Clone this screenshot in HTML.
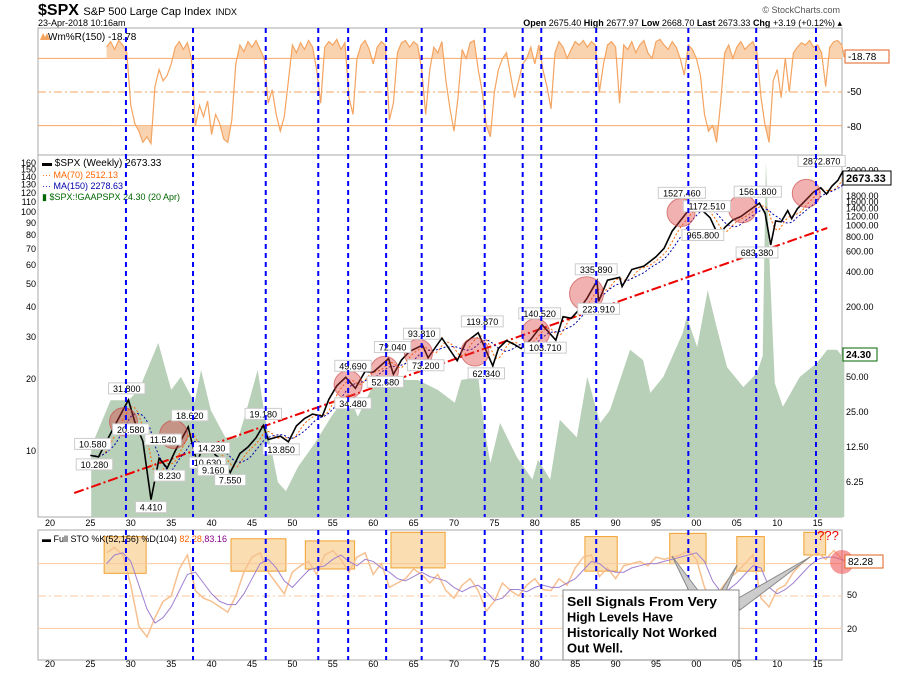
<!DOCTYPE html>
<html><head><meta charset="utf-8"><style>
body{margin:0;background:#fff;width:900px;height:673px;overflow:hidden;font-family:"Liberation Sans",sans-serif}
svg{display:block}
</style></head><body>
<svg id="c" width="900" height="673" xmlns="http://www.w3.org/2000/svg" font-family="Liberation Sans, sans-serif">
<text x="38" y="15" font-size="16" font-weight="bold">$SPX <tspan font-size="11" font-weight="normal">S&amp;P 500 Large Cap Index</tspan> <tspan font-size="9" font-weight="normal">INDX</tspan></text>
<text x="38" y="26" font-size="9">23-Apr-2018 10:16am</text>
<text x="840" y="13" font-size="9" text-anchor="end" fill="#555">© StockCharts.com</text>
<text x="842" y="26" font-size="9" text-anchor="end"><tspan font-weight="bold">Open</tspan> 2675.40  <tspan font-weight="bold">High</tspan> 2677.97  <tspan font-weight="bold">Low</tspan> 2668.70  <tspan font-weight="bold">Last</tspan> 2673.33  <tspan font-weight="bold">Chg</tspan> +3.19 (+0.12%) ▴</text>
<g id="g"></g>
</svg>
<script>
// ---- data ----
const signalYears=[1929.4,1937.7,1946.7,1953.2,1956.9,1961.6,1966.0,1973.8,1978.5,1980.8,1987.6,1999.0,2007.4,2014.8];
const priceYears=[1925,1926,1927,1928,1929.7,1930.5,1931.5,1932.5,1933.5,1934.5,1935.5,1937.1,1937.5,1938.2,1938.8,1939.5,1940.5,1941.5,1942.3,1943.5,1944.5,1945.5,1946.4,1947,1948.5,1949.5,1950.5,1951.5,1952.5,1953.7,1954.5,1955.5,1956.6,1957.8,1959,1960,1961.9,1962.5,1963.5,1964.5,1966.1,1966.8,1968.5,1970.4,1971.5,1973,1974.8,1975.5,1976.5,1977.5,1978.3,1979.5,1980.9,1982.6,1983.5,1984.5,1985.5,1986.5,1987.7,1987.9,1989,1990.5,1990.8,1992,1993.5,1995,1996,1997,1998,1999,2000.2,2000.9,2001.7,2002.8,2003.5,2004.5,2005.5,2006.5,2007.8,2008.5,2009.2,2009.8,2010.5,2011.3,2011.8,2012.5,2013.5,2014.5,2015.4,2016.1,2016.8,2017.5,2018.05,2018.3];
const priceVals=[10.58,10.28,14,19,31.8,20.58,14,4.41,10,8.23,11.54,18.62,14.23,9.16,12,13,10.63,9.5,7.55,11,12.5,15,19.18,14.5,15.5,13.85,19,22,24,23,32,42,49.69,40,56,55,72.04,52.68,70,83,93.81,73.2,108,69,100,119.87,62.34,88,103,95,88,105,140.52,103.71,165,160,190,240,335.89,223.91,340,360,300,420,450,540,640,900,1100,1350,1527.46,1320,1172.51,800,965.8,1120,1200,1350,1561.8,1280,683.38,1100,1080,1350,1150,1400,1650,1950,2120,1870,2200,2450,2872.87,2673.33];
const peYears=[1925.1,1927.5,1929.7,1931,1933.4,1935,1936.2,1937.9,1938.7,1939.9,1941.7,1943.3,1944.1,1945.7,1946.6,1948.2,1949.2,1950.7,1952.8,1954.8,1956.9,1958.1,1959.7,1961.8,1963.9,1965.5,1968,1970.1,1970.9,1973,1973.8,1974.5,1975.7,1977.8,1979.7,1980.4,1981.9,1983.1,1985.2,1986.5,1988.1,1989.3,1991.8,1993.4,1994.3,1995.9,1998.3,1998.8,2000.1,2001.4,2002.5,2003.8,2005.8,2007.5,2008.2,2008.6,2009.1,2009.7,2010.7,2012.8,2014.9,2016.2,2017.4,2018.3];
const peVals=[10.4,16.3,16.3,18,28.3,18,20.4,15.9,21.8,14.8,11.4,11.4,13.9,21.8,13.9,7.4,6.8,8.6,10.8,13.9,17.5,13.9,18,20.4,19.8,19.8,18,15.9,19.8,20.4,12.2,8.9,13.1,9.4,7.6,9.2,7.6,13.5,11.4,20.4,13.1,14.8,26.5,24,17.5,20.4,31.1,36.4,27.2,47,33,22.4,18.5,21.2,25,162,57,19.2,15.3,20.4,23.3,26.5,26.5,24.3];
const wrVals=[-10,-5,-12,-4,-8,-15,-62,-78,-85,-95,-90,-96,-45,-30,-40,-35,-25,-10,-5,-12,-6,-20,-80,-62,-72,-58,-88,-70,-78,-92,-95,-75,-25,-8,-14,-5,-10,-4,-12,-20,-60,-48,-70,-85,-72,-40,-8,-15,-6,-12,-4,-10,-30,-60,-10,-5,-8,-3,-12,-6,-55,-70,-20,-8,-4,-12,-25,-10,-5,-8,-75,-60,-15,-6,-4,-10,-5,-8,-30,-70,-30,-10,-15,-5,-40,-65,-85,-55,-12,-20,-6,-4,-30,-50,-80,-90,-50,-30,-20,-15,-35,-55,-40,-25,-20,-10,-25,-8,-30,-45,-65,-15,-5,-10,-20,-12,-5,-8,-4,-10,-5,-8,-50,-25,-8,-5,-10,-60,-8,-12,-5,-15,-8,-4,-15,-20,-5,-3,-8,-12,-5,-10,-20,-35,-8,-12,-20,-35,-70,-85,-80,-95,-60,-15,-8,-20,-10,-5,-12,-8,-5,-15,-55,-80,-95,-40,-30,-55,-20,-50,-15,-10,-6,-8,-4,-10,-8,-15,-45,-10,-5,-4,-8,-19];
const wrYears=wrVals.map((v,i)=>Math.min(1927+i*0.5,2018.3));
const stoYears=[1927,1928,1929,1930,1931,1932,1933,1934,1935,1936,1937,1938,1939,1940,1941,1942,1943,1944,1945,1946,1947,1948,1949,1950,1951,1952,1953,1954,1955,1956,1957,1958,1959,1960,1961,1962,1963,1964,1965,1966,1967,1968,1969,1970,1971,1972,1973,1974,1975,1976,1977,1978,1979,1980,1981,1982,1983,1984,1985,1986,1987,1988,1989,1990,1991,1992,1993,1994,1995,1996,1997,1998,1999,2000,2001,2002,2003,2004,2005,2006,2007,2008,2009,2010,2011,2012,2013,2014,2015,2016,2017,2018.3];
const stoK=[90,95,88,60,22,12,30,45,50,75,88,55,48,45,40,35,50,72,86,90,72,62,52,72,78,82,70,88,92,84,72,86,90,70,80,58,62,66,75,70,62,70,55,48,60,66,55,36,45,62,55,50,60,66,56,55,66,60,76,86,88,68,76,66,78,80,82,78,86,84,86,88,92,84,58,45,56,66,72,80,88,48,40,56,60,72,80,86,90,84,92,82];
const stoD=[80,88,90,82,60,38,25,30,40,55,70,72,62,52,45,42,42,52,66,80,84,76,64,58,66,74,76,78,84,88,82,78,84,82,76,72,66,64,68,72,68,66,64,58,54,58,60,54,46,48,56,56,54,58,60,58,58,62,66,74,82,80,74,72,72,76,78,80,80,82,84,86,88,90,82,64,54,56,62,70,78,76,58,52,56,62,70,78,84,86,86,83];
const circleYears=[1929.1,1935.3,1956.9,1961.4,1965.6,1972.6,1980.1,1986.4,1998.1,2005.7,2013.6];
const circleVals=[20.6,16,43,57,80,82,120,260,1300,1400,1900];
const priceLabels=[["31.800",1929.5,31.8,-1],["10.580",1925.3,10.58,-1],["10.280",1925.5,10.28,1],["20.580",1930,20.58,1],["11.540",1934,11.54,-1],["18.620",1937.3,18.62,-1],["14.230",1940,14.23,1],["10.630",1939.5,10.63,1],["9.160",1940.2,9.16,1],["8.230",1934.8,8.23,1],["7.550",1942.3,7.55,1],["4.410",1932.5,4.41,1],["19.180",1946.4,19.18,-1],["13.850",1948.6,13.85,1],["49.690",1957.5,49.69,-1],["34.480",1957.5,34.48,1],["72.040",1962.4,72.04,-1],["52.680",1961.5,52.68,1],["93.810",1966,93.81,-1],["73.200",1966.5,73.2,1],["119.870",1973.5,119.87,-1],["62.340",1974,62.34,1],["140.520",1980.6,140.52,-1],["103.710",1981.3,103.71,1],["335.890",1987.6,335.89,-1],["223.910",1987.9,223.91,1],["1527.460",1998.2,1527.46,-1],["1172.510",2001.3,1172.51,-1],["965.800",2000.8,965.8,1],["1561.800",2007.6,1561.8,-1],["683.380",2007.5,683.38,1],["2872.870",2015.5,2872.87,-1]];
const stoBoxes=[[1926.7,1931.9,105,71],[1942.4,1949.2,103,73],[1951.6,1957.7,101,75],[1962.2,1968.9,109,76],[1986.2,1990.2,105,73],[1996.7,2001.2,108,80],[2005,2008.4,105,73],[2013.3,2016,109,88]];
// ---- scales ----
const X=y=>50+(y-1920)*8.08;
const PY=v=>307-35*Math.log2(v/200);
const EY=v=>451-72*Math.log2(v/10);
const WY=v=>36-v*1.12;
const SY=v=>650-v*1.08;
const NS='http://www.w3.org/2000/svg', G=document.getElementById('g');
function el(t,a,p){const e=document.createElementNS(NS,t);for(const k in a)e.setAttribute(k,a[k]);(p||G).appendChild(e);return e;}
function txt(x,y,s,a){const e=el('text',Object.assign({x:x,y:y,'font-size':9},a||{}));e.textContent=s;return e;}
function pathOf(xs,ys,fx,fy){return xs.map((x,i)=>(i?'L':'M')+fx(x).toFixed(1)+','+fy(ys[i]).toFixed(1)).join('');}
const L=38,R=842;
// panels
const p1=el('rect',{x:L,y:28,width:R-L,height:127,fill:'#fff',stroke:'#aaa'});


const p2=el('rect',{x:L,y:155,width:R-L,height:362,fill:'#fff',stroke:'#aaa'});


const p3=el('rect',{x:L,y:530,width:R-L,height:130,fill:'#fff',stroke:'#aaa'});


// PE area
let pa=pathOf(peYears,peVals,X,v=>Math.max(157,EY(v)));
pa+='L'+X(peYears[peYears.length-1])+',517L'+X(peYears[0])+',517Z';
const pe=el('path',{d:pa,fill:'#b8cfb8'});


// Williams %R
[-20,-80].forEach(v=>{const l=el('line',{x1:L,x2:R,y1:WY(v),y2:WY(v),stroke:'#f4a460','stroke-width':1});

});
const mid=el('line',{x1:L,x2:R,y1:WY(-50),y2:WY(-50),stroke:'#f4a460','stroke-dasharray':'8,3,2,3'});


const wrc=el('clipPath',{id:'wrTop'});el('rect',{x:L,y:28,width:R-L,height:WY(-20)-28},wrc);
const wrb=el('clipPath',{id:'wrBot'});el('rect',{x:L,y:WY(-80),width:R-L,height:30},wrb);
const wp=pathOf(wrYears,wrVals,X,WY);
el('path',{d:wp+'L'+X(2018.3)+','+WY(-20)+'L'+X(1927)+','+WY(-20)+'Z',fill:'#f9d3b0','clip-path':'url(#wrTop)'});
el('path',{d:wp+'L'+X(2018.3)+','+WY(-80)+'L'+X(1927)+','+WY(-80)+'Z',fill:'#f9d3b0','clip-path':'url(#wrBot)'});
const wl=el('path',{d:wp,fill:'none',stroke:'#f4a460','stroke-width':1.2});


txt(48,40,'Wm%R(150) -18.78',{'font-size':10});
el('path',{d:'M40,40 l3,-7 l2,4 l2,-4 l3,7z',fill:'#f4a460'});
const wb=el('rect',{x:845,y:50,width:44,height:13,fill:'#fff',stroke:'#e06020'});


txt(848,60,'-18.78',{'font-size':10});
txt(847,95,'-50',{'font-size':10});txt(847,130,'-80',{'font-size':10});
// price panel left axis
[160,150,140,130,120,110,100,90,80,70,60,50,40,30,20,10].forEach(v=>{txt(36,EY(v)+3,String(v),{'text-anchor':'end','font-size':9});});
// right axis
[3000,1800,1600,1400,1200,1000,800,600,400,200,50,25,12.5,6.25].forEach(v=>{txt(846,PY(v)+3,v.toFixed(2),{'font-size':9});});
// trend line
const tl=el('line',{x1:X(1923),y1:493,x2:X(2016.2),y2:228,stroke:'#e00',
'stroke-width':2,'stroke-dasharray':'10,3,2,3'});


// moving averages from series
const ix=[],iy=[];
for(let t=1925;t<=2018.3;t+=0.05){let i=0;while(i<priceYears.length-2&&priceYears[i+1]<t)i++;
const f=(t-priceYears[i])/(priceYears[i+1]-priceYears[i]);ix.push(t);iy.push(Math.exp(Math.log(priceVals[i])*(1-f)+Math.log(priceVals[i+1])*f));}
function ma(n){const o=[];for(let i=0;i<iy.length;i++){let s=0,c=0;for(let j=Math.max(0,i-n);j<=i;j++){s+=iy[j];c++;}o.push(s/c);}return o;}
const m70=el('path',{d:pathOf(ix,ma(27),X,PY),fill:'none',stroke:'#f60','stroke-width':1,'stroke-dasharray':'2,2'});


const m150=el('path',{d:pathOf(ix,ma(58),X,PY),fill:'none',stroke:'#00a','stroke-width':1,'stroke-dasharray':'2,2'});


const pl=el('path',{d:pathOf(priceYears,priceVals,X,PY),fill:'none',stroke:'#000','stroke-width':1.6});


circleYears.forEach((y,i)=>{const c=el('circle',{cx:X(y),cy:PY(circleVals[i]),r:i==7?17:14,fill:'rgba(220,60,60,0.4)',stroke:'rgba(200,60,60,0.6)'});

});
priceLabels.forEach(p=>{const x=X(p[1]),y=PY(p[2])+(p[3]<0?-8:11);const w=p[0].length*5.4+4;
const r=el('rect',{x:x-w/2,y:y-9,width:w,height:11,fill:'#fff',stroke:'#ccc'});


txt(x,y,p[0],{'text-anchor':'middle','font-size':9});});
// legend
txt(42,166,'▬ $SPX (Weekly) 2673.33',{'font-size':10});
txt(42,178,'··· MA(70) 2512.13',{'font-size':9,fill:'#f60'});
txt(42,189,'··· MA(150) 2278.63',{'font-size':9,fill:'#00a'});
txt(42,200,'▮ $SPX:!GAAPSPX 24.30 (20 Apr)',{'font-size':9,fill:'#060'});
const lb=el('rect',{x:843,y:171,width:48,height:14,fill:'#fff',stroke:'#000'});


txt(846,182,'2673.33',{'font-size':11,'font-weight':'bold'});
const gb=el('rect',{x:843,y:348,width:34,height:13,fill:'#fff',stroke:'#060'});


txt(846,358,'24.30',{'font-size':10,'font-weight':'bold'});
// x axis labels
const yrs=[1920,1925,1930,1935,1940,1945,1950,1955,1960,1965,1970,1975,1980,1985,1990,1995,2000,2005,2010,2015];
yrs.forEach(y=>{const s=String(y%100).padStart(2,'0');txt(X(y),526,s,{'text-anchor':'middle','font-size':9});txt(X(y),667,s,{'text-anchor':'middle','font-size':9});});
// stochastic
stoBoxes.forEach(b=>{const r=el('rect',{x:X(b[0]),y:SY(b[2]),width:X(b[1])-X(b[0]),height:SY(b[3])-SY(b[2]),fill:'rgba(245,190,100,0.5)',stroke:'#f0a030'});

});
[80,20].forEach(v=>el('line',{x1:L,x2:R,y1:SY(v),y2:SY(v),stroke:'#f8c8a0'}));
el('line',{x1:L,x2:R,y1:SY(50),y2:SY(50),stroke:'#f8c8a0','stroke-dasharray':'8,3,2,3'});
const sk=el('path',{d:pathOf(stoYears,stoK,X,SY),fill:'none',stroke:'#f8c090','stroke-width':1.5});


const sd=el('path',{d:pathOf(stoYears,stoD,X,SY),fill:'none',stroke:'#a080d0','stroke-width':1});


txt(42,542,'▬ Full STO %K(52,156) %D(104) ',{'font-size':9}).innerHTML+='<tspan fill="#f60">82.28</tspan><tspan fill="#808">,83.16</tspan>';
txt(847,598,'50',{'font-size':9});txt(847,632,'20',{'font-size':9});
const rc=el('circle',{cx:842,cy:562,r:12,fill:'rgba(240,90,90,0.6)'});


const sb=el('rect',{x:845,y:555,width:38,height:13,fill:'#fff',stroke:'#e06020'});


txt(848,565,'82.28',{'font-size':10});
txt(828,540,'???',{'font-size':13,fill:'#e00','text-anchor':'middle'});
// signal lines
signalYears.forEach(y=>{[[28,517],[530,660]].forEach(r=>{const l=el('line',{x1:X(y),x2:X(y),y1:r[0],y2:r[1],stroke:'#00f','stroke-width':2,'stroke-dasharray':'5,4'});

});});
// callout
el('path',{d:'M700,593 L672,556 L690,593Z M720,593 L737,565 L725,593Z M735,600 L810,557 L740,610Z',fill:'#ccc',stroke:'#888'});
const cb=el('rect',{x:563,y:590,width:176,height:70,fill:'#fff',stroke:'#888'});


const cl=['Sell Signals From Very','High Levels Have','Historically Not Worked','Out Well.'];
const cw=[150,106,150,56];
cl.forEach((s,i)=>txt(567,606+i*15.5,s,{'font-size':13,'font-weight':'bold',textLength:cw[i],lengthAdjust:'spacingAndGlyphs'}));
</script>
</body></html>
